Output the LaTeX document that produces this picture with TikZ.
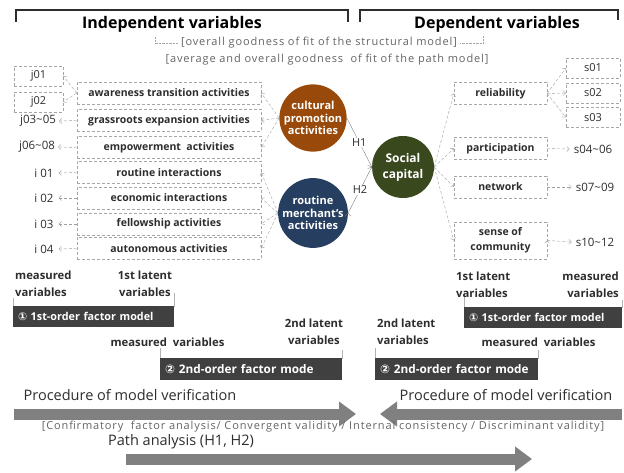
\documentclass[tikz,border=0pt]{standalone}
\usepackage{fontspec}
\setmainfont{Open Sans}
\newfontfamily\symfont{DejaVu Sans}
\newfontfamily\spacedfont[LetterSpace=8]{Open Sans}
\usetikzlibrary{arrows.meta}
\definecolor{txtgray}{RGB}{45,45,45}
\definecolor{lightgray2}{RGB}{100,100,100}
\definecolor{culbrown}{RGB}{153,74,10}
\definecolor{merblue}{RGB}{38,62,96}
\definecolor{socgreen}{RGB}{58,72,30}
\definecolor{bargray}{RGB}{64,64,64}
\definecolor{arrgray}{RGB}{128,128,128}
\tikzset{
  msbox/.style={draw=gray!70, densely dashed, minimum width=49, minimum height=20, inner sep=0pt,
    text=txtgray, font=\fontsize{11}{12}\selectfont},
  mslab/.style={inner sep=0pt, text=txtgray, font=\fontsize{11.5}{12}\selectfont},
  latbox/.style={draw=gray!70, densely dashed, minimum width=184, minimum height=22, inner sep=0pt,
    text=txtgray, font=\bfseries\fontsize{10.5}{12}\selectfont},
  factor/.style={circle, minimum size=62, inner sep=0pt, text=white, align=center,
    font=\bfseries\fontsize{11}{12.5}\selectfont},
  note/.style={inner sep=0pt, text=txtgray, font=\bfseries\fontsize{11.3}{17}\selectfont},
  fitnote/.style={inner sep=0pt, text=lightgray2, font=\spacedfont\fontsize{11}{13}\selectfont},
  bar/.style={fill=bargray, text=white, minimum height=21, inner ysep=0pt, inner xsep=5pt, align=left,
    font=\bfseries\fontsize{10.8}{12}\selectfont},
  proc/.style={inner sep=0pt, text=txtgray, font=\fontsize{14.5}{16}\selectfont},
  dasharr/.style={draw=gray!75, densely dashed, -{Straight Barb[length=2.5pt,width=5pt]}},
  hyparr/.style={draw=gray, -{Straight Barb[length=3pt,width=6pt]}},
  bigarr/.style={draw=arrgray, line width=11pt, -{Triangle[length=17pt,width=24pt]}},
  tick/.style={draw=gray!60, line width=0.6pt}
}
\begin{document}
\begin{tikzpicture}[x=1pt,y=-1pt]
\useasboundingbox (0,0) rectangle (624,473);

% headings
\draw[line width=1.1pt, txtgray] (16,22) -- (16,10) -- (348,10) -- (348,22);
\draw[line width=1.1pt, txtgray] (360,22) -- (360,10) -- (618,10) -- (618,20);
\node[inner sep=0pt, text=black, font=\bfseries\fontsize{16}{18}\selectfont] (indep) at (172,24) {Independent variables};
\node[inner sep=0pt, text=black, font=\bfseries\fontsize{16}{18}\selectfont] (dep) at (497,24) {Dependent variables};
\node[fitnote] (fit1) at (319,43) {[overall goodness of fit of the structural model]};
\node[fitnote] (fit2) at (327,60) {[average and overall goodness\ \ of fit of the path model]};
\draw[gray!70, densely dotted] (155,37) |- ([xshift=-3pt]fit1.west);
\draw[gray!70, densely dotted] ([xshift=3pt]fit1.east) -| (483,36);

% independent side
\node[msbox] (j01) at (38.5,76) {j01};
\node[msbox] (j02) at (38.5,102) {j02};
\node[mslab] (j0305) at (38,121) {j03\textasciitilde05};
\node[mslab] (j0608) at (37,147) {j06\textasciitilde08};
\node[mslab] (i01) at (44,173) {i 01};
\node[mslab] (i02) at (44,198) {i 02};
\node[mslab] (i03) at (44,224) {i 03};
\node[mslab] (i04) at (44,249) {i 04};

\node[latbox] (aware) at (169,93) {awareness transition activities};
\node[latbox] (grass) at (169,120.5) {grassroots expansion activities};
\node[latbox] (empow) at (169,147.5) {empowerment\ \ activities};
\node[latbox] (rinter) at (169,172.5) {routine interactions};
\node[latbox] (einter) at (169,198) {economic interactions};
\node[latbox] (fellow) at (169,224) {fellowship activities};
\node[latbox] (auto) at (169,248.5) {autonomous activities};

\node[factor, fill=culbrown] (cult) at (313,118) {cultural\\promotion\\activities};
\node[factor, fill=merblue] (merch) at (313,213) {routine\\merchant's\\activities};
\node[factor, fill=socgreen, font=\bfseries\fontsize{12}{16}\selectfont] (soc) at (403,167) {Social\\capital};

% dependent side
\node[latbox, minimum width=93] (rel) at (500.5,93.5) {reliability};
\node[latbox, minimum width=93] (part) at (500.5,148.5) {participation};
\node[latbox, minimum width=93] (net) at (500.5,187) {network};
\node[latbox, minimum width=93, minimum height=37, align=center, font=\bfseries\fontsize{10.5}{15}\selectfont] (sense) at (500.5,240.5) {sense of\\community};
\node[msbox, minimum width=54] (s01) at (593,68) {s01};
\node[msbox, minimum width=54] (s02) at (593,93) {s02};
\node[msbox, minimum width=54] (s03) at (593,117.5) {s03};
\node[mslab] (s0406) at (593,149) {s04\textasciitilde06};
\node[mslab] (s0709) at (595,187) {s07\textasciitilde09};
\node[mslab] (s1012) at (595,242) {s10\textasciitilde12};

\path[dasharr]
  (aware.west) edge (j01.east) edge (j02.east)
  (grass.west) edge ([xshift=3pt]j0305.east)
  (empow.west) edge ([xshift=3pt]j0608.east)
  (rinter.west) edge ([xshift=5pt]i01.east)
  (einter.west) edge ([xshift=5pt]i02.east)
  (fellow.west) edge ([xshift=5pt]i03.east)
  (auto.west) edge ([xshift=5pt]i04.east)
  (cult.west) edge (aware.east) edge (grass.east) edge (empow.east)
  (merch.west) edge (rinter.east) edge (einter.east) edge (fellow.east) edge (auto.east)
  (soc.east) edge (rel.west) edge (part.west) edge (net.west) edge (sense.west)
  (rel.east) edge (s01.west) edge (s02.west) edge (s03.west)
  (part.east) edge ([xshift=-4pt]s0406.west)
  (net.east) edge ([xshift=-4pt]s0709.west)
  (sense.east) edge ([xshift=-4pt]s1012.west);
\path[hyparr]
  (cult.east) edge node[fill=white, inner sep=1pt, text=txtgray, font=\fontsize{11}{12}\selectfont]{H1} (soc.west)
  (merch.east) edge node[fill=white, inner sep=1pt, text=txtgray, font=\fontsize{11}{12}\selectfont]{H2} (soc.west);

% factor models
\draw[tick] (13,298) -- (13,306) -- (174,306) -- (174,293);
\draw[tick] (160,348) -- (160,358) -- (342,358) -- (342,350);
\draw[tick] (464,293) -- (464,307) -- (622,307) -- (622,300);
\draw[tick] (375,348) -- (375,358) -- (538,358) -- (538,350);
\node[note, anchor=west, align=left] (msL) at (15,283.5) {measured\\variables};
\node[note, align=center] (latL) at (145,283.5) {1st latent\\variables};
\node[bar, text width=151] (ordL) at (93.5,316.5) {{\symfont ①} 1st-order factor model};
\node[note] (ms2L) at (167.5,342) {measured\ \ variables};
\node[note, align=center] (lat2L) at (314,331.5) {2nd latent\\variables};
\node[bar, text width=172, minimum height=22, font=\bfseries\fontsize{11.8}{12}\selectfont] (ord2L) at (251,369) {{\symfont ②} 2nd-order factor mode};

\node[note, anchor=west, align=left] (latR) at (456,284.5) {1st latent\\variables};
\node[note, anchor=east, align=right] (msR) at (619,284.5) {measured\\variables};
\node[bar, text width=148] (ordR) at (543,317) {{\symfont ①} 1st-order factor model};
\node[note, anchor=west, align=left] (lat2R) at (377,331.5) {2nd latent\\variables};
\node[note] (ms2R) at (538.5,342) {measured\ \ variables};
\node[bar, text width=153, minimum height=22, font=\bfseries\fontsize{11.8}{12}\selectfont] (ord2R) at (456.5,369) {{\symfont ②} 2nd-order factor mode};

% verification
\node[proc] (procL) at (130,395) {Procedure of model verification};
\node[proc] (procR) at (506,395) {Procedure of model verification};
\coordinate (aLs) at (14,414);
\coordinate (aLe) at (356,414);
\coordinate (aRs) at (622,414);
\coordinate (aRe) at (380,414);
\draw[bigarr] (aLs) -- (aLe);
\draw[bigarr] (aRs) -- (aRe);
\node[fitnote] (cfa) at (323,427) {[Confirmatory\ \ factor analysis/ Convergent validity / Internal consistency / Discriminant validity]};
\node[proc] (pathan) at (181,442) {Path analysis (H1, H2)};
\coordinate (aPs) at (126,459);
\coordinate (aPe) at (532,459);
\draw[bigarr] (aPs) -- (aPe);
\end{tikzpicture}
\end{document}
